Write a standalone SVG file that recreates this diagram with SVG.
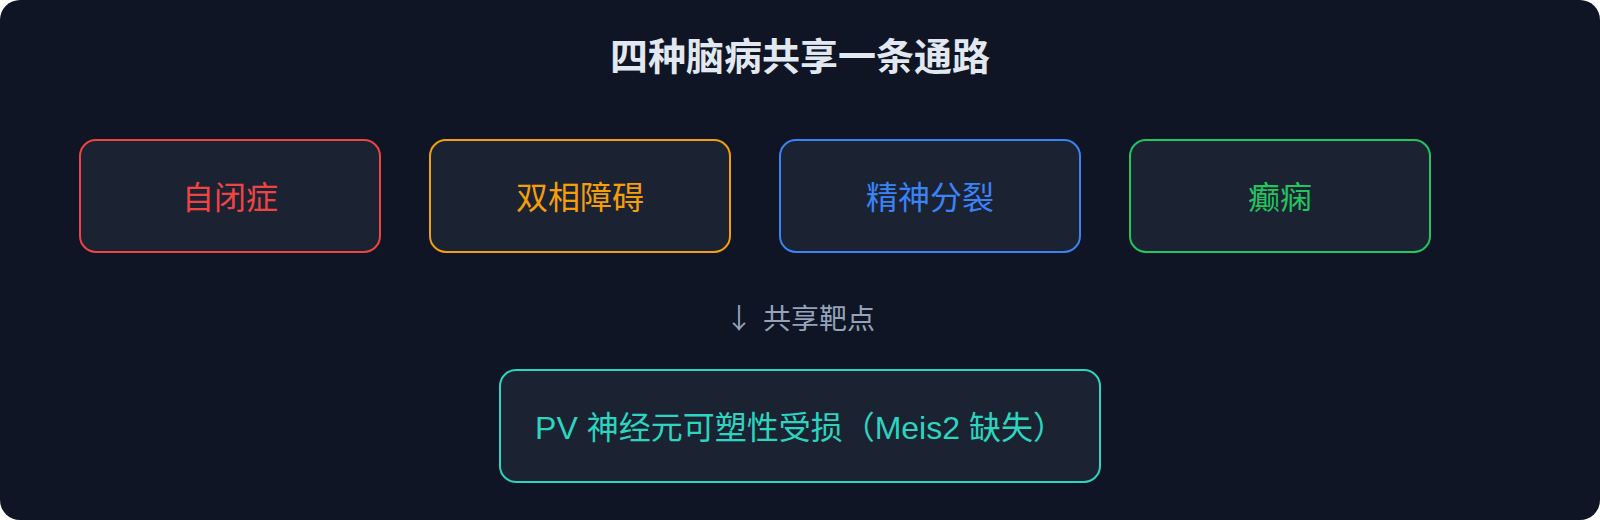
<svg xmlns="http://www.w3.org/2000/svg" width="1600" height="520" viewBox="0 0 1600 520">
  <defs>
    <style>
      .bg { fill: #0f1524; }
      .box rect { fill: #1b2333; stroke-width: 2; }
      .lbl { font-family: "Liberation Sans", "Noto Sans CJK SC", sans-serif; text-anchor: middle; }
      .title { font-size: 38px; font-weight: 700; fill: #e2e8f0; }
      .dis { font-size: 32px; }
      .note { font-family: "Noto Sans CJK SC", sans-serif; font-size: 28px; fill: #94a3b8; }
      .target { font-size: 32px; fill: #2dd4bf; }
    </style>
  </defs>
  <rect class="bg" x="0" y="0" width="1600" height="520" rx="20" ry="20"/>
  <text id="title" class="lbl title" x="800" y="70">四种脑病共享一条通路</text>

  <g id="autism" class="box">
    <rect x="80" y="140" width="300" height="112" rx="16" ry="16" stroke="#ef4444"/>
    <text class="lbl dis" x="230" y="209" fill="#ef4444">自闭症</text>
  </g>
  <g id="bipolar" class="box">
    <rect x="430" y="140" width="300" height="112" rx="16" ry="16" stroke="#f59e0b"/>
    <text class="lbl dis" x="580" y="209" fill="#f59e0b">双相障碍</text>
  </g>
  <g id="schizophrenia" class="box">
    <rect x="780" y="140" width="300" height="112" rx="16" ry="16" stroke="#3b82f6"/>
    <text class="lbl dis" x="930" y="209" fill="#3b82f6">精神分裂</text>
  </g>
  <g id="epilepsy" class="box">
    <rect x="1130" y="140" width="300" height="112" rx="16" ry="16" stroke="#22c55e"/>
    <text class="lbl dis" x="1280" y="209" fill="#22c55e">癫痫</text>
  </g>

  <g id="connectors">
    <text class="note" x="739" y="329" text-anchor="middle">↓</text>
    <text class="note" x="763" y="329">共享靶点</text>
  </g>

  <g id="pv-target" class="box">
    <rect x="500" y="370" width="600" height="112" rx="16" ry="16" stroke="#2dd4bf"/>
    <text class="lbl target" x="800" y="439">PV 神经元可塑性受损（Meis2 缺失）</text>
  </g>
</svg>
